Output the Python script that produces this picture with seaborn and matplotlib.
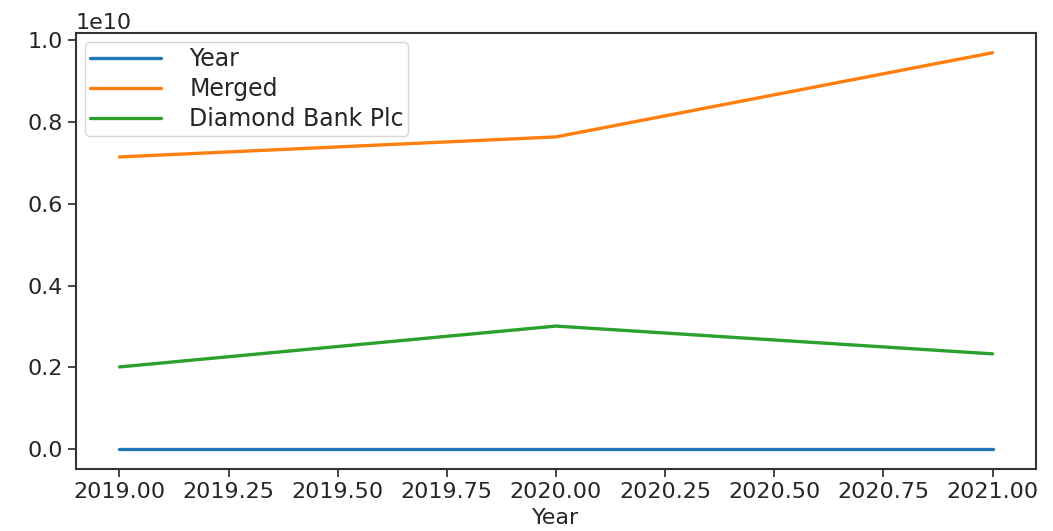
import matplotlib
matplotlib.use("Agg")
import matplotlib.pyplot as plt
import seaborn as sns
import pandas as pd

years = [2019, 2020, 2021]
merged = [7.15e9, 7.64e9, 9.70e9]
diamond = [2.01e9, 3.01e9, 2.33e9]
x_ticks = [2019.00, 2019.25, 2019.50, 2019.75, 2020.00, 2020.25, 2020.50, 2020.75, 2021.00]
y_ticks = [0.0, 0.2e10, 0.4e10, 0.6e10, 0.8e10, 1.0e10]

df = pd.DataFrame({"Year": years, "Merged": merged, "Diamond Bank Plc": diamond})
long = pd.DataFrame({
    "Year": years * 3,
    "value": list(df["Year"].astype(float)) + merged + diamond,
    "series": ["Year"] * 3 + ["Merged"] * 3 + ["Diamond Bank Plc"] * 3,
})

sns.set_style("ticks")
plt.rcParams["font.family"] = ["DejaVu Sans"]
plt.rcParams["font.size"] = 16

fig = plt.figure(figsize=(10.53, 5.31), dpi=100)
ax = fig.add_axes([0.072, 0.117, 0.912, 0.821])
palette = ["#1f77b4", "#ff7f0e", "#2ca02c"]
sns.lineplot(data=long, x="Year", y="value", hue="series", palette=palette,
             linewidth=2.4, ax=ax, legend=True)
ax.set_xticks(x_ticks)
ax.set_xticklabels([f"{t:.2f}" for t in x_ticks])
ax.set_yticks(y_ticks)
ax.set_ylabel("")
ax.set_xlabel("Year", fontsize=16)
ax.tick_params(labelsize=16, length=6, width=1.2)
for s in ax.spines.values():
    s.set_linewidth(1.5)
    s.set_color("#333333")
ax.yaxis.get_offset_text().set_fontsize(16)
ax.legend(title=None, loc="upper left", fontsize=17, handlelength=3.0,
          handletextpad=1.2, borderpad=0.2, labelspacing=0.25,
          borderaxespad=0.4)
fig.savefig("out.png", dpi=100)
